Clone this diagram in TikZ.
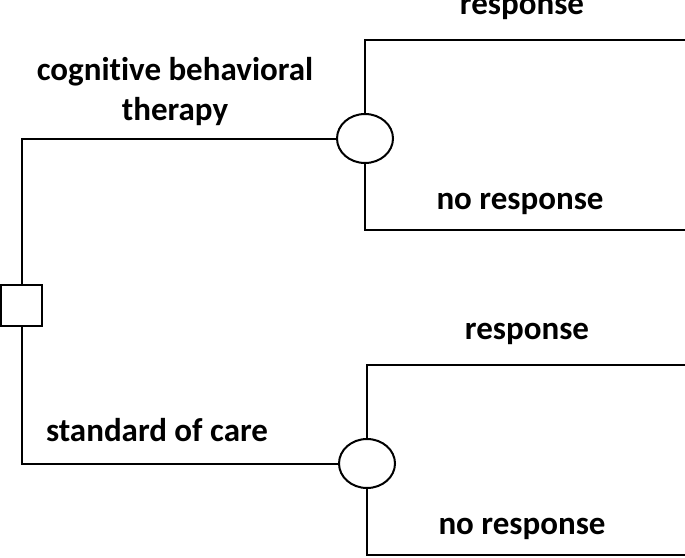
\documentclass[tikz,border=0pt]{standalone}
\usepackage{fontspec}
\setmainfont{Carlito}[Ligatures=NoCommon]
\usetikzlibrary{positioning, shapes.geometric}

\begin{document}
\begin{tikzpicture}[
  x=1pt, y=-1pt,
  decision/.style={draw, rectangle, line width=2pt, minimum size=41pt, inner sep=0pt},
  chance/.style={draw, ellipse, line width=2pt, minimum width=56pt, minimum height=49pt, inner sep=0pt},
  lbl/.style={anchor=base, inner sep=0pt, align=center, font=\fontsize{33}{40}\selectfont\bfseries},
  branch/.style={line width=2pt}
]
\useasboundingbox (0,0) rectangle (685,557);

% Nodes
\node[decision] (choice) at (21.5,305.5) {};
\node[chance] (cbt) at (365,138.5) {};
\node[chance] (soc) at (367,463.5) {};

% Branch ends
\coordinate (cbtyes) at (686,40);
\coordinate (cbtno) at (686,230);
\coordinate (socyes) at (686,365);
\coordinate (socno) at (686,555);

% Branches
\draw[branch] (choice.north) |- (cbt.west);
\draw[branch] (choice.south) |- (soc.west);
\draw[branch] (cbt.north) |- (cbtyes);
\draw[branch] (cbt.south) |- (cbtno);
\draw[branch] (soc.north) |- (socyes);
\draw[branch] (soc.south) |- (socno);

% Labels
\node[lbl] (cbtlbl) at (175,120) {cognitive behavioral\\therapy};
\node[lbl] (soclbl) at (157,441) {standard of care};
\node[lbl] (cbtyeslbl) at (522,14) {response};
\node[lbl] (cbtnolbl) at (520,209) {no response};
\node[lbl] (socyeslbl) at (527,339) {response};
\node[lbl] (socnolbl) at (522,534) {no response};

\end{tikzpicture}
\end{document}
